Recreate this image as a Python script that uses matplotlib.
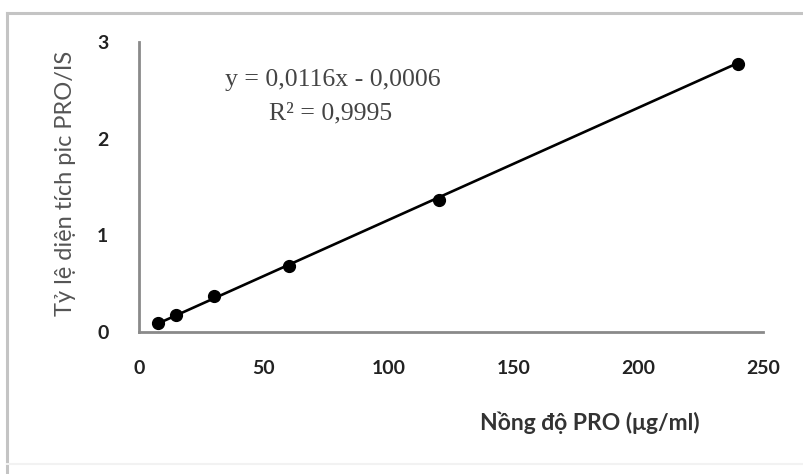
import matplotlib.pyplot as plt
from matplotlib.lines import Line2D

# calibration points
conc = [7.5, 15, 30, 60, 120, 240]
ratio = [0.09, 0.175, 0.37, 0.68, 1.37, 2.77]
slope = 0.0116
intercept = -0.0006
x_ticks = [0, 50, 100, 150, 200, 250]
y_ticks = [0, 1, 2, 3]


def main():
    W, H = 804, 474
    fig = plt.figure(figsize=(W / 100, H / 100), dpi=100)
    # outer frame (only top and left visible, faint bottom)
    fig.add_artist(Line2D([7 / W, 1], [1 - 13 / H, 1 - 13 / H], transform=fig.transFigure,
                          color='#c4c4c4', lw=2.2))
    fig.add_artist(Line2D([7 / W, 7 / W], [0, 1 - 13 / H], transform=fig.transFigure,
                          color='#c4c4c4', lw=2.2))
    fig.add_artist(Line2D([7 / W, 1], [1 - 464 / H, 1 - 464 / H], transform=fig.transFigure,
                          color='#f2f2f2', lw=1.5))

    ax = fig.add_axes([139 / W, 1 - 332 / H, 624 / W, 290 / H])

    fit_x = [conc[0], conc[-1]]
    fit_y = [slope * v + intercept for v in fit_x]
    ax.plot(fit_x, fit_y, color='black', lw=1.9, zorder=2)
    ax.plot(conc, ratio, 'o', color='black', markersize=8.5, zorder=3)

    ax.set_xlim(0, 250)
    ax.set_ylim(0, 3)
    ax.set_xticks(x_ticks)
    ax.set_yticks(y_ticks)
    ax.tick_params(length=0, labelsize=14, labelcolor='#222222')
    ax.tick_params(axis='x', pad=20)
    ax.tick_params(axis='y', pad=22)
    for lab in ax.get_xticklabels() + ax.get_yticklabels():
        lab.set_fontfamily('Lato')
        lab.set_fontweight('bold')
    for s in ['top', 'right']:
        ax.spines[s].set_visible(False)
    for s in ['left', 'bottom']:
        ax.spines[s].set_color('#8a8a8a')
        ax.spines[s].set_linewidth(2)

    ax.set_xlabel('Nồng độ PRO (μg/ml)', fontsize=16.5, fontweight='bold',
                  family='Lato', color='#333333')
    ax.xaxis.set_label_coords((590 - 139) / 624, -(412 - 332) / 290)
    ax.set_ylabel('Tỷ lệ diện tích pic PRO/IS', fontsize=17, family='Lato',
                  color='#555555')
    ax.yaxis.set_label_coords(-(139 - 76) / 624, (332 - 183) / 290)

    fig.text(333 / W, 1 - 80 / H, 'y = 0,0116x - 0,0006', ha='center',
             va='center', fontsize=18.5, family='Liberation Serif', color='#444444')
    fig.text(331 / W, 1 - 113 / H, 'R² = 0,9995', ha='center',
             va='center', fontsize=18.5, family='Liberation Serif', color='#444444')

    fig.savefig('out.png', dpi=100)


if __name__ == "__main__":
    main()
